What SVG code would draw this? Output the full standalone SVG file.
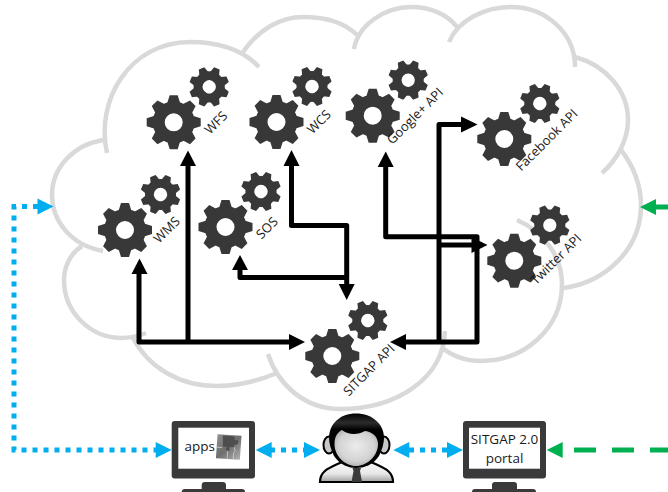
<svg xmlns="http://www.w3.org/2000/svg" xmlns:xlink="http://www.w3.org/1999/xlink" width="668" height="492" viewBox="0 0 668 492">
<style>
text{font-family:"Open Sans","Liberation Sans",sans-serif;fill:#1a1a1a}
.lab{font-size:13px;text-anchor:middle}
.cloud path{fill:none;stroke:#d9d9d9;stroke-width:4.500}
.blk{fill:none;stroke:#000;stroke-width:5;stroke-linejoin:round}
.blkh{fill:#000}
.blu{fill:none;stroke:#00aeef;stroke-width:5;stroke-dasharray:5 6}
.bluh{fill:#00aeef}
.grn{fill:none;stroke:#00b050;stroke-width:5}
.grnh{fill:#00b050}
.mon{fill:#3a3a3a}
.scr{fill:#fff}
.g{fill:#383838}
</style>
<defs>
<g id="gear">
<path fill-rule="evenodd" d="M0-21A21 21 0 1 1 0 21A21 21 0 1 1 0-21ZM0-9A9 9 0 1 0 0 9A9 9 0 1 0 0-9Z"/>
<path id="t" d="M-4-27H4L6.500-19H-6.500Z"/>
<use xlink:href="#t" href="#t" transform="rotate(45)"/>
<use xlink:href="#t" href="#t" transform="rotate(90)"/>
<use xlink:href="#t" href="#t" transform="rotate(135)"/>
<use xlink:href="#t" href="#t" transform="rotate(180)"/>
<use xlink:href="#t" href="#t" transform="rotate(225)"/>
<use xlink:href="#t" href="#t" transform="rotate(270)"/>
<use xlink:href="#t" href="#t" transform="rotate(315)"/>
</g>
<g id="gears">
<use xlink:href="#gear" href="#gear"/>
<use xlink:href="#gear" href="#gear" transform="translate(35.500 -35.500) rotate(22.500) scale(.74)"/>
</g>
<linearGradient id="pz" x1="0" y1="0" x2="1" y2="1"><stop offset="0" stop-color="#8f8f8f"/><stop offset=".5" stop-color="#6e6e6e"/><stop offset="1" stop-color="#b0b0b0"/></linearGradient>
<radialGradient id="face" cx=".5" cy=".45" r=".6"><stop offset="0" stop-color="#ececec"/><stop offset=".7" stop-color="#d2d2d2"/><stop offset="1" stop-color="#a8a8a8"/></radialGradient>
<linearGradient id="body" x1="0" y1="0" x2="0" y2="1"><stop offset="0" stop-color="#fafafa"/><stop offset=".6" stop-color="#e8e8e8"/><stop offset="1" stop-color="#a0a0a0"/></linearGradient>
<linearGradient id="hair" x1="0" y1="0" x2="0" y2="1"><stop offset="0" stop-color="#000"/><stop offset=".17" stop-color="#2c2c2c"/><stop offset=".3" stop-color="#000"/></linearGradient>
</defs>

<g id="cloud" class="cloud">
<path d="M107 153C95 100 130 42 190 42C220 42 243 50 259 67"/>
<path d="M243 52C258 30 280 17 303 17C325 17 345 23 357 35"/>
<path d="M354 49C358 25 385 7 411 7C430 7 447 14 457 27"/>
<path d="M449 42C458 20 485 7 511 7C545 7 575 32 575 67"/>
<path d="M575 57C605 65 628 90 628 120C628 140 617 160 602 173"/>
<path d="M621 150C633 165 641 185 641 205C641 250 605 282 564 288"/>
<path d="M517 220C545 232 562 258 562 284C562 328 525 361 481 361C466 361 452 356 441 347"/>
<path d="M445 331C443 380 395 409 340 409C305 409 278 385 268 354"/>
<path d="M277 373C258 381 240 386 217 386C180 386 148 368 132 336"/>
<path d="M146 333C138 336 130 338 122 338C90 338 64 312 64 280C64 266 71 253 82 246"/>
<path d="M103 140C73 145 52 168 52 195C52 220 70 245 103 251"/>
</g>

<g id="connectors">
<path class="blk" d="M139 272V342H292"/>
<path class="blk" d="M188 164V342"/>
<path class="blk" d="M291.500 164V225.500H346.700V286"/>
<path class="blk" d="M240 268V277.500H346.700"/>
<path class="blk" d="M385.700 165V236.700H477V342H404"/>
<path class="blk" d="M439 342V124.500H463"/>
<path class="blk" d="M439 245H474"/>
<path class="blkh" d="M139.500 258.500L147.500 274H131.500Z"/>
<path class="blkh" d="M305 342L289 350V334Z"/>
<path class="blkh" d="M188 150.500L196 166H180Z"/>
<path class="blkh" d="M291.500 150L299.500 166H283.500Z"/>
<path class="blkh" d="M346.700 300L338.700 284H354.700Z"/>
<path class="blkh" d="M240 255L248 270H232Z"/>
<path class="blkh" d="M385.700 151.500L393.700 167H377.700Z"/>
<path class="blkh" d="M390 342L406 334V350Z"/>
<path class="blkh" d="M477.500 124.500L461 116.500V132.500Z"/>
<path class="blkh" d="M487.500 245L471.500 237V253Z"/>

<path class="blu" d="M38 206.500H14V450H156"/>
<path class="bluh" d="M53.500 206.500L37.500 198.500V214.500Z"/>
<path class="bluh" d="M171.700 450L155.700 442V458Z"/>
<path class="blu" d="M270 450H305"/>
<path class="bluh" d="M255.700 450L271.700 442V458Z"/>
<path class="bluh" d="M320 450L304 442V458Z"/>
<path class="blu" d="M409 450H447"/>
<path class="bluh" d="M393.300 450L409.300 442V458Z"/>
<path class="bluh" d="M463 450L447 442V458Z"/>

<path class="grn" d="M654 207H668"/>
<path class="grnh" d="M640 207L656 199V215Z"/>
<path class="grn" stroke-dasharray="22 16" d="M574 450H668"/>
<path class="grnh" d="M546.700 450L562.700 442V458Z"/>
</g>

<g id="wfs" class="g"><use xlink:href="#gears" href="#gears" transform="translate(173.700 122.300)"/><text class="lab" transform="translate(216 122.700) rotate(-45)" y="4.500">WFS</text></g>
<g id="wcs" class="g"><use xlink:href="#gears" href="#gears" transform="translate(276.500 122)"/><text class="lab" transform="translate(319 122) rotate(-45)" y="4.500">WCS</text></g>
<g id="wms" class="g"><use xlink:href="#gears" href="#gears" transform="translate(125 230)"/><text class="lab" transform="translate(166.700 230) rotate(-45)" y="4.500">WMS</text></g>
<g id="sos" class="g"><use xlink:href="#gears" href="#gears" transform="translate(225.500 227)"/><text class="lab" transform="translate(267 228) rotate(-45)" y="4.500">SOS</text></g>
<g id="google" class="g"><use xlink:href="#gears" href="#gears" transform="translate(372.700 115.700)"/><text class="lab" transform="translate(415 116) rotate(-45)" y="4.500">Google+ API</text></g>
<g id="facebook" class="g"><use xlink:href="#gears" href="#gears" transform="translate(504.300 139)"/><text class="lab" transform="translate(546.700 140) rotate(-45)" y="4.500">Facebook API</text></g>
<g id="twitter" class="g"><use xlink:href="#gears" href="#gears" transform="translate(514.300 260.700)"/><text class="lab" transform="translate(556 259.300) rotate(-45)" y="4.500">Twitter API</text></g>
<g id="sitgap" class="g"><use xlink:href="#gears" href="#gears" transform="translate(332.300 356)"/><text class="lab" transform="translate(369 370) rotate(-45)" y="4.500">SITGAP API</text></g>

<g id="apps">
<rect class="mon" x="171.700" y="421" width="83.300" height="57.500" rx="3"/>
<rect class="scr" x="178.300" y="427.700" width="70.700" height="41"/>
<path class="mon" d="M201.700 489V485Q201.700 482 205 482H222.700Q226 482 226 485V489H242Q245 489 245 492H181.700Q181.700 489 185 489Z"/>
<text x="184.500" y="451" font-size="13.500px">apps</text>
<g transform="rotate(4 228.700 447)">
<rect x="216.700" y="435" width="24" height="24" fill="url(#pz)"/>
<path d="M222 436H234V440Q237 438 238 441Q238 445 234 444V447H229Q231 450 228 451Q225 450 227 447H223Z" fill="#4e4e4e"/>
<path d="M228 451V459M234 447Q237 450 234 453V459M217 448H222" fill="none" stroke="#d0d0d0" stroke-width=".8"/>
</g>
</g>

<g id="user">
<path d="M320 482C320 470 330 468 344 461L369 461C383 468 393 470 393 482Z" fill="url(#body)" stroke="#000" stroke-width="2.200"/>
<path d="M344 461L352 468H361L370 461L365 457H349Z" fill="#fff"/>
<path d="M352.500 468H361L360 471L362 482H351.500L353.500 471Z" fill="#3a3a3a"/>
<ellipse cx="329" cy="445" rx="5.500" ry="8.500" fill="#c8c8c8" stroke="#000" stroke-width="2"/>
<ellipse cx="384" cy="445" rx="5.500" ry="8.500" fill="#c8c8c8" stroke="#000" stroke-width="2"/>
<path d="M356 413.500C340 413.500 329 424 329 438C329 443 331 450 334 456C340 465 349 468 356 468C364 468 373 465 379 456C382 450 384 443 384 438C384 424 372 413.500 356 413.500Z" fill="url(#hair)"/>
<path d="M334.500 444C334.500 436 338 432 342 430C348 435 358 435 365 431C373 432 378 437 378 444C378 456 367 466 356 466C345 466 334.500 456 334.500 444Z" fill="url(#face)"/>
</g>

<g id="portal">
<rect class="mon" x="463" y="421" width="83" height="57.500" rx="3"/>
<rect class="scr" x="469" y="427.700" width="71" height="41"/>
<path class="mon" d="M492 489V485Q492 482 495 482H514Q517 482 517 485V489H533Q536 489 536 492H472Q472 489 475 489Z"/>
<text x="504.500" y="444" font-size="13.500px" text-anchor="middle">SITGAP 2.0</text>
<text x="504.500" y="462.500" font-size="13.500px" text-anchor="middle">portal</text>
</g>
</svg>
